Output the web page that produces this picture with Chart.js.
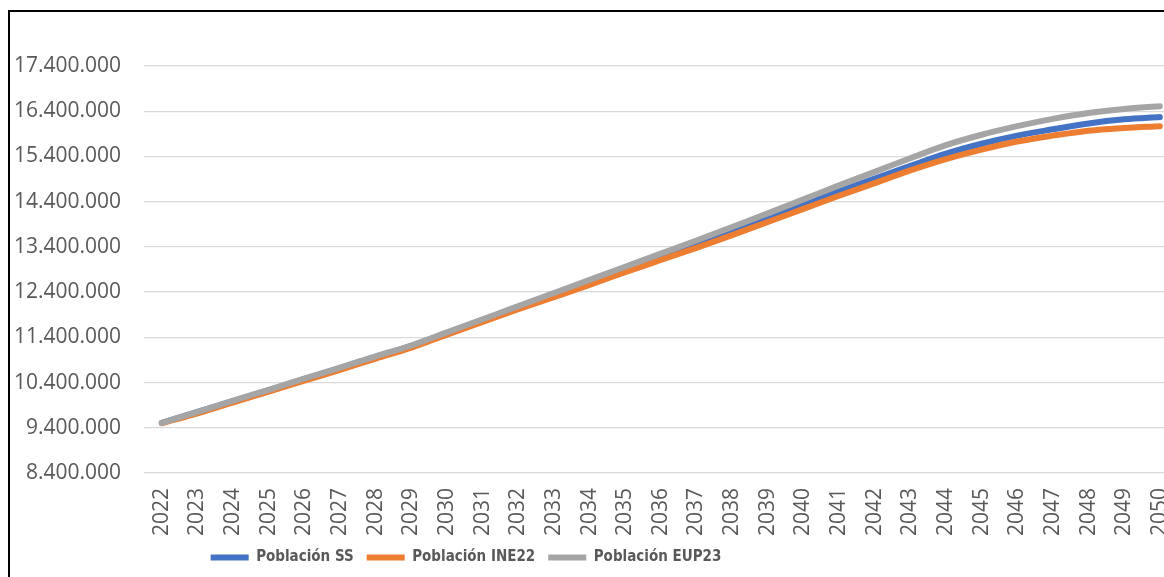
<!DOCTYPE html>
<html>
<head>
<meta charset="utf-8">
<script src="https://cdn.jsdelivr.net/npm/chart.js@4"></script>
<style>
  html, body { margin: 0; padding: 0; background: #fff; overflow: hidden; width: 1164px; height: 577px; }
  #frame { position: absolute; left: 8px; top: 10px; width: 1300px; height: 700px; border-left: 2px solid #000; border-top: 2px solid #000; }
  #c { position: absolute; left: 0; top: 0; }
</style>
</head>
<body>
<div id="frame"></div>
<canvas id="c" width="1200" height="574"></canvas>
<script>
const years = ['2022','2023','2024','2025','2026','2027','2028','2029','2030','2031','2032','2033','2034','2035','2036','2037','2038','2039','2040','2041','2042','2043','2044','2045','2046','2047','2048','2049','2050'];
const poblacionSS = [9510000, 9750000, 9990000, 10230000, 10480000, 10720000, 10970000, 11210000, 11490000, 11780000, 12060000, 12340000, 12620000, 12900000, 13180000, 13460000, 13750000, 14040000, 14340000, 14630000, 14910000, 15190000, 15460000, 15680000, 15860000, 16000000, 16130000, 16220000, 16270000];
const poblacionINE22 = [9500000, 9720000, 9960000, 10200000, 10440000, 10680000, 10930000, 11170000, 11460000, 11740000, 12020000, 12290000, 12560000, 12840000, 13110000, 13380000, 13660000, 13950000, 14240000, 14530000, 14810000, 15090000, 15340000, 15550000, 15730000, 15860000, 15970000, 16030000, 16070000];
const poblacionEUP23 = [9510000, 9750000, 10000000, 10240000, 10490000, 10730000, 10980000, 11220000, 11510000, 11800000, 12090000, 12380000, 12670000, 12960000, 13250000, 13540000, 13840000, 14140000, 14450000, 14760000, 15060000, 15360000, 15650000, 15880000, 16070000, 16230000, 16360000, 16450000, 16510000];
const seriesNames = ['Población SS', 'Población INE22', 'Población EUP23'];
const yMin = 8400000, yMax = 17400000, yStep = 1000000;

function fmt(v) { return String(Math.round(v)).replace(/\B(?=(\d{3})+(?!\d))/g, '.'); }

const legendShift = {
  id: 'legendShift',
  afterLayout(chart) {
    const lg = chart.legend;
    if (!lg) return;
    const targetCenter = 465, targetTextY = 559;
    const cur = (lg.left + lg.right) / 2;
    const dx = targetCenter - cur + 1;
    lg.left += dx; lg.right += dx;
    const pad = lg.options.labels.padding;
    const fs = lg.options.labels.font.size;
    const itemH = fs * 1.2;
    const newTop = targetTextY - pad - itemH / 2;
    const dy = newTop - lg.top;
    lg.top += dy; lg.bottom += dy;
  }
};

Chart.defaults.font.family = '"Open Sans", sans-serif';
new Chart(document.getElementById('c'), {
  type: 'line',
  data: {
    labels: years,
    datasets: [
      { label: seriesNames[0], data: poblacionSS, borderColor: '#4472C4', backgroundColor: '#4472C4', order: 2 },
      { label: seriesNames[1], data: poblacionINE22, borderColor: '#ED7D31', backgroundColor: '#ED7D31', order: 1 },
      { label: seriesNames[2], data: poblacionEUP23, borderColor: '#A5A5A5', backgroundColor: '#A5A5A5', order: 0 }
    ].map(d => Object.assign(d, { borderWidth: 6, pointRadius: 0, pointHoverRadius: 0, borderCapStyle: 'round', borderJoinStyle: 'round', cubicInterpolationMode: 'monotone', fill: false }))
  },
  options: {
    responsive: false,
    animation: false,
    devicePixelRatio: 1,
    layout: { padding: { left: 0, right: 0, top: 66, bottom: 0 } },
    plugins: {
      tooltip: { enabled: false },
      legend: {
        position: 'bottom',
        labels: {
          usePointStyle: true,
          pointStyle: 'line',
          pointStyleWidth: 38,
          boxHeight: 6,
          padding: 13,
          color: '#595959',
          font: { family: '"Liberation Sans Narrow", "DejaVu Sans Condensed", "Liberation Sans", sans-serif', size: 15, weight: 'bold' },
          sort: (a, b) => a.datasetIndex - b.datasetIndex
        }
      }
    },
    scales: {
      x: {
        offset: true,
        grid: { display: false, drawTicks: false },
        border: { display: false },
        ticks: { autoSkip: false, maxRotation: 90, minRotation: 90, padding: 15, color: '#595959', font: { size: 21 } },
        afterFit(scale) { scale.height = 63; }
      },
      y: {
        min: yMin, max: yMax,
        grid: { color: '#D9D9D9', lineWidth: 1.3, drawTicks: false },
        border: { display: false },
        ticks: { stepSize: yStep, padding: 23, color: '#595959', font: { size: 21 }, callback: v => fmt(v) },
        afterFit(scale) { scale.width = 144; }
      }
    }
  },
  plugins: [legendShift]
});
</script>
</body>
</html>
